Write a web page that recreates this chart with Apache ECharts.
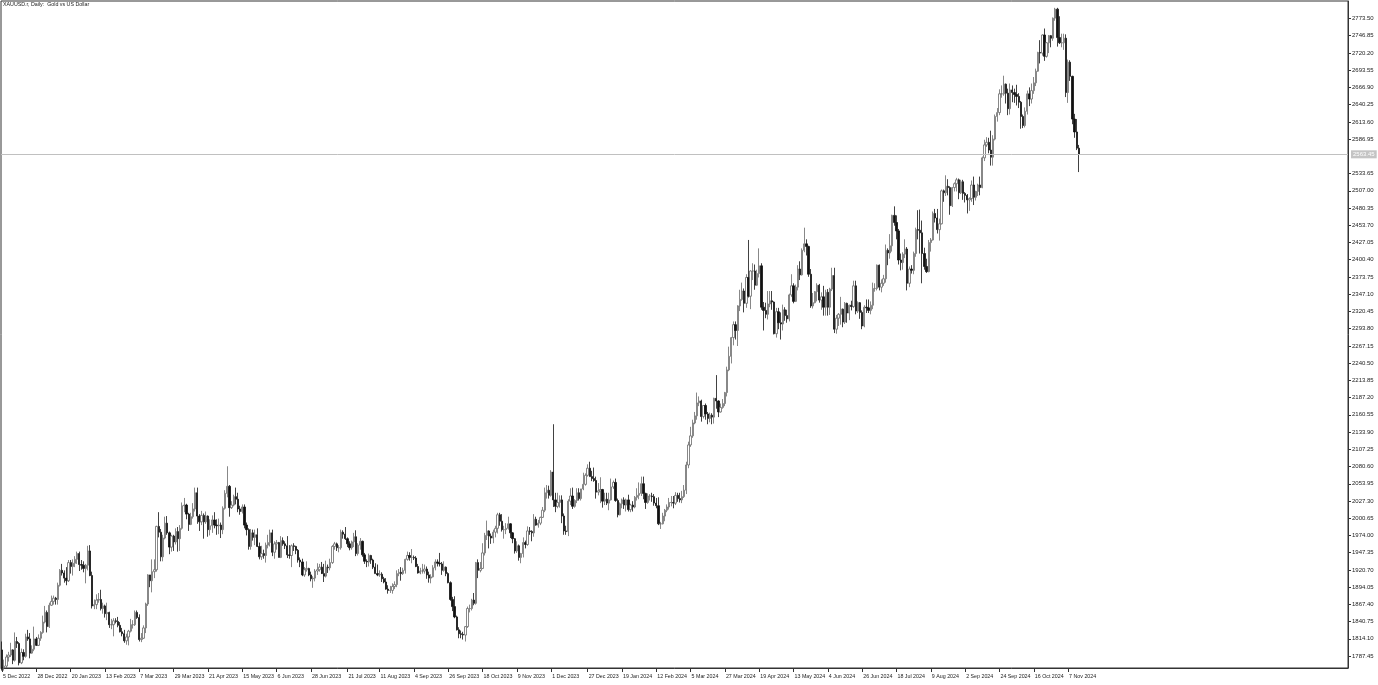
<!DOCTYPE html>
<html><head><meta charset="utf-8">
<script src="https://cdn.jsdelivr.net/npm/echarts@6/dist/echarts.min.js"></script>
<style>html,body{margin:0;padding:0;background:#fff;overflow:hidden}#c{width:1378px;height:685px}</style>
</head><body><div id="c"></div>
<script>
const chartTitle = 'XAUUSD.r, Daily:  Gold vs US Dollar';
const firstDay = [2022, 11, 5];
const holidays = ['2022-12-26','2023-01-02','2023-04-07','2023-12-25','2024-01-01','2024-03-29'];
const tickLabels = ['5 Dec 2022','28 Dec 2022','20 Jan 2023','13 Feb 2023','7 Mar 2023','29 Mar 2023','21 Apr 2023','15 May 2023','6 Jun 2023','28 Jun 2023','21 Jul 2023','11 Aug 2023','4 Sep 2023','26 Sep 2023','18 Oct 2023','9 Nov 2023','1 Dec 2023','27 Dec 2023','19 Jan 2024','12 Feb 2024','5 Mar 2024','27 Mar 2024','19 Apr 2024','13 May 2024','4 Jun 2024','26 Jun 2024','18 Jul 2024','9 Aug 2024','2 Sep 2024','24 Sep 2024','16 Oct 2024','7 Nov 2024'];
const priceTicks = [1787.45,1814.10,1840.75,1867.40,1894.05,1920.70,1947.35,1974.00,2000.65,2027.30,2053.95,2080.60,2107.25,2133.90,2160.55,2187.20,2213.85,2240.50,2267.15,2293.80,2320.45,2347.10,2373.75,2400.40,2427.05,2453.70,2480.35,2507.00,2533.65,2586.95,2613.60,2640.25,2666.90,2693.55,2720.20,2746.85,2773.50];
const lastPrice = 2563.45;
const totalSlots = 628;

const opens = [
1797,1769,1772,1786,1789,1797,1781,1810,1807,1777,1793,1787,1817,1814,1792,1798,1814,1804,1815,
1824,1840,1855,1833,1866,1872,1877,1875,1897,1920,1916,1908,1904,1932,1926,1931,1937,1946,1929,1928,1923,
1928,1950,1912,1865,1867,1874,1875,1861,1865,1853,1855,1836,1836,1842,1841,1835,1825,1822,1811,1817,
1826,1836,1836,1855,1847,1813,1815,1831,1868,1913,1904,1918,1921,1988,1979,1941,1970,1993,1978,1956,1973,1964,1980,
1969,1985,2020,2021,2007,1991,2003,2015,2040,2004,1995,2005,1995,2004,1983,1989,1998,1990,1989,
1990,1983,2016,2039,2050,2017,2021,2034,2030,2015,2011,2018,1990,1983,1957,1978,1971,1975,1957,1941,1946,1943,1959,
1963,1978,1948,1961,1963,1940,1966,1961,1958,1944,1943,1958,1957,1951,1936,1933,1913,1921,1923,1913,1907,1908,
1919,1921,1925,1915,1911,1925,1924,1932,1957,1961,1955,1955,1979,1976,1969,1961,1955,1964,1972,1946,1959,
1965,1944,1934,1933,1943,1936,1925,1915,1913,1914,1907,1902,1891,1889,1889,1895,1898,1915,1917,1915,1920,1937,1943,
1940,1940,1939,1926,1916,1919,1919,1922,1913,1908,1910,1924,1933,1931,1930,1920,1925,1915,1901,1875,1864,
1848,1828,1822,1821,1820,1833,1861,1861,1874,1869,1932,1920,1923,1947,1974,1981,1973,1970,1979,1985,2006,1996,
1983,1983,1985,1992,1978,1969,1950,1958,1940,1946,1963,1960,1981,1980,1978,1999,1990,1993,2002,2013,2040,2044,
2036,2072,2029,2019,2025,2029,2004,1981,1980,2027,2035,2019,2028,2040,2031,2046,2053,2067,2078,2065,
2062,2059,2041,2043,2045,2027,2030,2024,2029,2049,2056,2028,2006,2023,2029,2021,2029,2014,2021,2018,2033,2036,
2039,2054,2039,2025,2035,2035,2034,2024,2020,1992,1992,2004,2013,2018,2025,2025,2024,2036,2031,2029,2034,
2044,2083,2114,2128,2148,2159,2179,2182,2158,2175,2162,2155,2160,2157,2186,2182,2165,2172,2178,2195,
2230,2251,2280,2300,2291,2329,2339,2352,2333,2373,2344,2383,2383,2361,2379,2391,2327,2322,2316,2332,2337,2335,
2286,2320,2303,2301,2323,2314,2309,2346,2360,2336,2358,2386,2377,2415,2425,2421,2378,2329,2334,2351,2361,2338,2343,
2327,2350,2327,2355,2376,2293,2310,2316,2324,2304,2333,2318,2330,2328,2360,2321,2334,2319,2298,2327,
2326,2322,2330,2356,2356,2392,2358,2364,2371,2415,2411,2422,2469,2458,2445,2400,2396,2409,2417,2364,2386,2384,2410,
2447,2446,2442,2410,2390,2382,2427,2431,2472,2465,2447,2456,2507,2504,2514,2512,2484,2512,2518,2524,2504,2521,
2503,2500,2493,2495,2516,2497,2506,2516,2512,2558,2578,2582,2570,2559,2587,2622,2628,2657,2657,2672,2658,
2634,2663,2659,2656,2653,2644,2622,2608,2630,2657,2649,2662,2674,2692,2721,2720,2748,2715,2736,2747,2743,2774,2788,
2744,2736,2736,2743,2659,2706,2684,2618,2598,2573
];
const highs = [
1810,1782,1790,1794,1808,1798,1824,1817,1809,1799,1798,1822,1828,1823,1804,1833,1817,1821,1826,
1850,1865,1858,1870,1881,1881,1879,1901,1922,1930,1920,1925,1936,1936,1937,1942,1949,1949,1936,1934,1930,
1958,1959,1918,1875,1883,1885,1890,1870,1867,1870,1856,1845,1846,1846,1848,1840,1831,1828,1822,1828,
1845,1843,1858,1858,1852,1823,1835,1870,1914,1913,1937,1937,1989,2010,1984,1975,2003,2004,1980,1975,1975,1985,1987,
1990,2025,2032,2023,2009,2009,2024,2048,2048,2007,2012,2008,2011,2005,1999,2005,2010,1999,2000,
1994,2019,2044,2081,2052,2027,2037,2048,2040,2020,2022,2022,1994,1985,1984,1983,1983,1985,1963,1958,1952,1963,1975,
1983,1983,1965,1967,1964,1973,1971,1965,1973,1959,1960,1962,1958,1953,1940,1938,1925,1934,1924,1918,1911,1922,
1931,1930,1933,1930,1935,1929,1938,1959,1964,1963,1959,1983,1982,1987,1971,1965,1966,1978,1982,1962,1970,
1966,1947,1937,1946,1944,1938,1931,1929,1920,1917,1910,1908,1897,1896,1900,1903,1920,1922,1925,1924,1938,1949,1948,
1953,1943,1942,1930,1924,1930,1929,1926,1918,1914,1928,1937,1937,1947,1933,1934,1926,1917,1903,1879,1880,
1850,1832,1827,1825,1834,1864,1867,1876,1885,1933,1937,1933,1962,1978,1997,1982,1977,1983,1989,2009,2009,2007,
1989,1993,2003,1993,1979,1970,1965,1960,1947,1971,1966,1988,1987,1982,2007,2003,1998,2003,2018,2048,2052,2051,
2075,2146,2040,2040,2036,2036,2008,1989,2030,2047,2048,2030,2047,2047,2046,2071,2070,2084,2088,2074,
2079,2065,2055,2064,2046,2040,2040,2040,2062,2059,2062,2031,2025,2031,2033,2031,2037,2023,2027,2035,2047,2056,
2065,2065,2040,2039,2038,2040,2038,2032,2033,1995,2009,2015,2022,2032,2035,2035,2041,2040,2040,2043,2052,
2088,2119,2142,2153,2165,2195,2189,2184,2175,2178,2165,2164,2163,2187,2222,2183,2178,2185,2196,2235,
2266,2281,2305,2305,2330,2354,2365,2356,2378,2431,2384,2395,2393,2385,2418,2395,2335,2334,2352,2352,2352,2336,
2326,2326,2319,2331,2327,2323,2348,2378,2364,2362,2392,2398,2418,2450,2432,2422,2386,2349,2352,2364,2363,2350,2360,
2354,2355,2357,2388,2388,2315,2318,2343,2325,2335,2334,2331,2337,2368,2368,2336,2335,2322,2330,2339,
2339,2336,2365,2364,2393,2393,2370,2377,2424,2418,2440,2470,2483,2469,2448,2410,2412,2432,2420,2390,2392,2413,2450,
2477,2478,2461,2419,2402,2431,2434,2475,2479,2479,2464,2509,2509,2531,2525,2514,2513,2520,2527,2526,2524,2524,
2505,2502,2497,2523,2529,2507,2518,2529,2560,2586,2590,2589,2600,2593,2625,2635,2664,2670,2685,2673,2665,
2673,2670,2665,2671,2658,2646,2625,2636,2662,2667,2673,2683,2696,2722,2740,2749,2758,2737,2748,2748,2775,2790,2790,
2777,2750,2750,2749,2710,2709,2685,2626,2618,2578
];
const lows = [
1765,1765,1769,1779,1786,1775,1779,1800,1773,1775,1781,1785,1811,1784,1791,1795,1803,1803,1811,
1822,1838,1824,1831,1865,1867,1867,1867,1895,1912,1901,1897,1902,1915,1912,1925,1930,1919,1921,1917,1900,
1920,1911,1861,1860,1860,1870,1858,1853,1847,1843,1831,1829,1818,1838,1832,1824,1818,1808,1805,1804,
1824,1830,1834,1845,1810,1809,1814,1823,1865,1894,1886,1908,1918,1971,1934,1934,1968,1975,1945,1949,1950,1960,1949,
1950,1983,2010,1999,1981,1990,2000,2011,1992,1981,1990,1969,1992,1972,1974,1978,1985,1975,1976,
1970,1976,2014,2033,2003,2015,2019,2022,2010,2006,2008,1985,1974,1952,1952,1966,1959,1956,1937,1936,1938,1932,1954,
1957,1942,1938,1952,1940,1939,1958,1953,1939,1938,1925,1950,1945,1932,1925,1911,1910,1918,1911,1903,1893,1903,
1913,1918,1917,1902,1909,1916,1920,1930,1952,1950,1948,1952,1969,1967,1956,1951,1952,1956,1942,1943,1952,
1941,1930,1925,1926,1930,1922,1915,1911,1910,1902,1900,1890,1884,1885,1884,1891,1894,1911,1904,1913,1915,1935,1935,
1931,1936,1925,1915,1914,1915,1915,1907,1901,1900,1909,1920,1926,1926,1913,1918,1911,1900,1873,1857,1846,
1827,1815,1815,1813,1810,1831,1855,1858,1866,1867,1908,1917,1922,1943,1967,1954,1961,1962,1971,1977,1989,1980,
1969,1976,1983,1970,1962,1946,1947,1935,1931,1940,1954,1958,1975,1965,1972,1989,1986,1990,2001,2010,2031,2031,
2034,2018,2010,2016,2017,1993,1975,1975,1973,2021,2015,2017,2024,2028,2028,2044,2051,2065,2065,2058,
2057,2031,2036,2024,2017,2021,2021,2013,2028,2046,2026,2002,2005,2016,2015,2011,2011,2010,2011,2016,2028,2030,
2035,2030,2015,2023,2028,2026,2020,2016,1990,1984,1991,1996,2010,2014,2019,2016,2021,2026,2025,2024,2032,
2038,2078,2111,2125,2146,2153,2174,2150,2155,2153,2146,2149,2146,2147,2170,2157,2164,2170,2174,2189,
2228,2240,2268,2277,2267,2321,2337,2319,2326,2342,2324,2369,2354,2360,2373,2323,2291,2310,2308,2327,2323,2285,
2280,2293,2277,2291,2306,2303,2305,2343,2333,2335,2353,2369,2376,2412,2407,2374,2326,2325,2333,2336,2334,2323,2314,
2314,2314,2315,2352,2287,2286,2298,2300,2296,2301,2303,2307,2322,2326,2316,2318,2309,2293,2296,2318,
2318,2316,2324,2351,2353,2353,2350,2360,2365,2392,2402,2413,2453,2432,2393,2384,2385,2403,2353,2358,2379,2378,2405,
2432,2410,2364,2385,2380,2381,2413,2430,2458,2441,2430,2455,2490,2499,2500,2470,2482,2506,2506,2494,2502,2493,
2489,2472,2476,2490,2485,2492,2499,2500,2511,2553,2575,2565,2546,2546,2585,2614,2624,2651,2654,2642,2624,
2625,2644,2643,2639,2635,2603,2604,2605,2625,2638,2642,2657,2669,2691,2704,2716,2708,2713,2720,2729,2739,2770,2730,
2734,2729,2725,2652,2643,2677,2610,2589,2570,2536
];
const closes = [
1769,1772,1786,1789,1797,1781,1810,1807,1777,1793,1787,1817,1814,1792,1798,1814,1804,1815,1824,
1840,1855,1833,1866,1872,1877,1875,1897,1920,1916,1908,1904,1932,1926,1931,1937,1946,1929,1928,1923,1928,
1950,1912,1865,1867,1874,1875,1861,1865,1853,1855,1836,1836,1842,1841,1835,1825,1822,1811,1817,1826,
1836,1836,1855,1847,1813,1815,1831,1868,1913,1904,1918,1921,1988,1979,1941,1970,1993,1978,1956,1973,1964,1980,1969,
1985,2020,2021,2007,1991,2003,2015,2040,2004,1995,2005,1995,2004,1983,1989,1998,1990,1989,1990,
1983,2016,2039,2050,2017,2021,2034,2030,2015,2011,2018,1990,1983,1957,1978,1971,1975,1957,1941,1946,1943,1959,1963,
1978,1948,1961,1963,1940,1966,1961,1958,1944,1943,1958,1957,1951,1936,1933,1913,1921,1923,1913,1907,1908,1919,
1921,1925,1915,1911,1925,1924,1932,1957,1961,1955,1955,1979,1976,1969,1961,1955,1964,1972,1946,1959,1965,
1944,1934,1933,1943,1936,1925,1915,1913,1914,1907,1902,1891,1889,1889,1895,1898,1915,1917,1915,1920,1937,1943,1940,
1940,1939,1926,1916,1919,1919,1922,1913,1908,1910,1924,1933,1931,1930,1920,1925,1915,1901,1875,1864,1848,
1828,1822,1821,1820,1833,1861,1861,1874,1869,1932,1920,1923,1947,1974,1981,1973,1970,1979,1985,2006,1996,1983,
1983,1985,1992,1978,1969,1950,1958,1940,1946,1963,1960,1981,1980,1978,1999,1990,1993,2002,2013,2040,2044,2036,
2072,2029,2019,2025,2029,2004,1981,1980,2027,2035,2019,2028,2040,2031,2046,2053,2067,2078,2065,2062,
2059,2041,2043,2045,2027,2030,2024,2029,2049,2056,2028,2006,2023,2029,2021,2029,2014,2021,2018,2033,2036,2039,
2054,2039,2025,2035,2035,2034,2024,2020,1992,1992,2004,2013,2018,2025,2025,2024,2036,2031,2029,2034,2044,
2083,2114,2128,2148,2159,2179,2182,2158,2175,2162,2155,2160,2157,2186,2182,2165,2172,2178,2195,2230,
2251,2280,2300,2291,2329,2339,2352,2333,2373,2344,2383,2383,2361,2379,2391,2327,2322,2316,2332,2337,2335,2286,
2320,2303,2301,2323,2314,2309,2346,2360,2336,2358,2386,2377,2415,2425,2421,2378,2329,2334,2351,2361,2338,2343,2327,
2350,2327,2355,2376,2293,2310,2316,2324,2304,2333,2318,2330,2328,2360,2321,2334,2319,2298,2327,2326,
2322,2330,2356,2356,2392,2358,2364,2371,2415,2411,2422,2469,2458,2445,2400,2396,2409,2417,2364,2386,2384,2410,2447,
2446,2442,2410,2390,2382,2427,2431,2472,2465,2447,2456,2507,2504,2514,2512,2484,2512,2518,2524,2504,2521,2503,
2500,2493,2495,2516,2497,2506,2516,2512,2558,2578,2582,2570,2559,2587,2622,2628,2657,2657,2672,2658,2634,
2663,2659,2656,2653,2644,2622,2608,2630,2657,2649,2662,2674,2692,2721,2720,2748,2715,2736,2747,2743,2774,2788,2744,
2736,2736,2743,2659,2706,2684,2618,2598,2573,2563.45
];

// trading-day calendar (weekdays minus broker holidays)
const monthNames = ['Jan','Feb','Mar','Apr','May','Jun','Jul','Aug','Sep','Oct','Nov','Dec'];
const dates = [];
const d = new Date(Date.UTC(firstDay[0], firstDay[1], firstDay[2]));
while (dates.length < opens.length) {
  const dow = d.getUTCDay();
  const iso = d.toISOString().slice(0, 10);
  if (dow !== 0 && dow !== 6 && holidays.indexOf(iso) < 0) {
    dates.push(d.getUTCDate() + ' ' + monthNames[d.getUTCMonth()] + ' ' + d.getUTCFullYear());
  }
  d.setUTCDate(d.getUTCDate() + 1);
}
const categories = dates.slice();
for (let i = dates.length; i < totalSlots; i++) categories.push('_' + i);
const tickSet = new Set(tickLabels);
const showTick = (idx, val) => tickSet.has(val);

const candleData = opens.map((o, i) => [o, closes[i], lows[i], highs[i]]);

const chart = echarts.init(document.getElementById('c'), null, {renderer: 'canvas'});
chart.setOption({
  animation: false,
  backgroundColor: '#ffffff',
  textStyle: {fontFamily: '"Liberation Sans", Arial, sans-serif'},
  graphic: [{
    type: 'text', left: 3, top: 2,
    style: {text: chartTitle, fontSize: 5.3, fontFamily: '"Liberation Sans", Arial, sans-serif', fill: '#222'}
  }],
  grid: {left: 1, top: 1, right: 30, bottom: 17, show: true, borderColor: '#333', borderWidth: 1, backgroundColor: 'transparent'},
  xAxis: {
    type: 'category', data: categories, boundaryGap: true,
    axisLine: {show: true, lineStyle: {color: '#333', width: 1}},
    axisTick: {show: true, interval: showTick, alignWithLabel: true, length: 4, lineStyle: {color: '#333'}},
    axisLabel: {show: true, interval: showTick, align: 'left', fontSize: 5.3, color: '#222', margin: 6, padding: [0, 0, 0, 1]},
    splitLine: {show: false}
  },
  yAxis: {
    type: 'value', position: 'right', scale: true, min: 1769.0, max: 2800.57,
    axisLine: {show: true, lineStyle: {color: '#333', width: 1}},
    axisTick: {show: true, length: 3, customValues: priceTicks, lineStyle: {color: '#333'}},
    axisLabel: {show: true, customValues: priceTicks, formatter: v => v.toFixed(2), fontSize: 6, color: '#222', margin: 4},
    splitLine: {show: false}
  },
  series: [{
    type: 'candlestick',
    data: candleData,
    barWidth: 1.8,
    itemStyle: {color: '#ffffff', color0: '#111111', borderColor: '#6a6a6a', borderColor0: '#111111', borderWidth: 0.8},
    markLine: {
      silent: true, symbol: ['none', 'none'], animation: false,
      data: [{yAxis: lastPrice}],
      lineStyle: {color: '#c0c0c0', type: 'solid', width: 1},
      label: {show: true, position: 'end', formatter: lastPrice.toFixed(2), backgroundColor: '#c4c4c4', color: '#ffffff', fontSize: 6, padding: [1, 2], distance: 3}
    }
  }]
});
</script>
</body></html>
